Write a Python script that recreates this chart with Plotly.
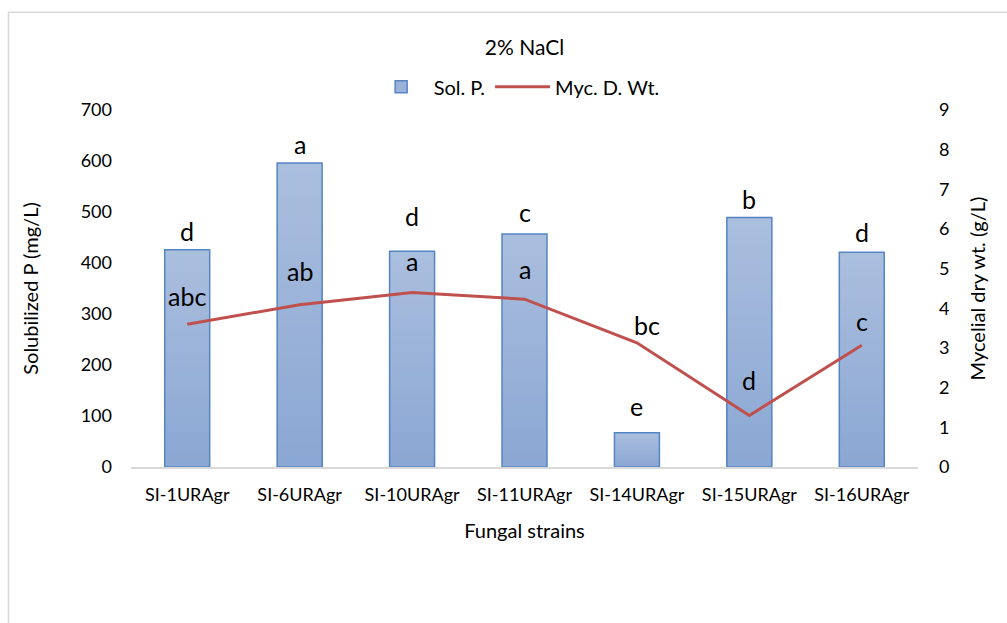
import plotly.graph_objects as go

# Fungal strains tested at 2% NaCl
strains = ["SI-1URAgr", "SI-6URAgr", "SI-10URAgr", "SI-11URAgr",
           "SI-14URAgr", "SI-15URAgr", "SI-16URAgr"]
sol_p = [426, 596, 423, 457, 67, 489, 421]          # solubilized P (mg/L)
myc_dw = [3.60, 4.09, 4.40, 4.23, 3.13, 1.30, 3.07]  # mycelial dry wt. (g/L)
sol_p_letters = ["d", "a", "d", "c", "e", "b", "d"]
myc_letters = ["abc", "ab", "a", "a", "bc", "d", "c"]

# pixel offsets of the significance letters above their marks
sol_p_shift = [7, 7, 23, 10, 15, 7, 8]
myc_shift = [16, 22, 19, 18, 6, 23, 12]
myc_xshift = [0, 0, 0, 0, 10, 0, 0]

FONT = "Lato"
BAR_TOP = (170, 190, 222)
BAR_BOTTOM = (139, 167, 211)
BAR_MID = "#9CB3D9"
BAR_EDGE = "#5585C3"
LINE_COLOR = "#C0504D"
N_STEPS = 30

fig = go.Figure()

# vertical gradient fill: overlaid bars, each a shorter fraction of the value
for k in range(N_STEPS):
    f = 1 - k / N_STEPS
    t = k / (N_STEPS - 1)
    rgb = tuple(round(a + (b - a) * t) for a, b in zip(BAR_TOP, BAR_BOTTOM))
    fig.add_trace(go.Bar(
        x=strains, y=[v * f for v in sol_p], width=0.4, showlegend=False,
        hoverinfo="skip",
        marker=dict(color="rgb(%d,%d,%d)" % rgb, line=dict(width=0)),
    ))
# outline of each bar
fig.add_trace(go.Bar(
    x=strains, y=sol_p, name="Sol. P.", width=0.4, showlegend=False,
    marker=dict(color="rgba(0,0,0,0)", line=dict(color=BAR_EDGE, width=1.5)),
))
# legend entry
fig.add_trace(go.Bar(
    x=[None], y=[None], name="Sol. P.",
    marker=dict(color=BAR_MID, line=dict(color=BAR_EDGE, width=1.5)),
))
fig.add_trace(go.Scatter(
    x=strains, y=myc_dw, name="Myc. D. Wt.", yaxis="y2", mode="lines",
    line=dict(color=LINE_COLOR, width=3),
))

for s, v, t, dy in zip(strains, sol_p, sol_p_letters, sol_p_shift):
    fig.add_annotation(x=s, y=v, yref="y", text=t, showarrow=False,
                       yanchor="bottom", yshift=dy - 5,
                       font=dict(family=FONT, size=25, color="#000"))
for s, v, t, dy, dx in zip(strains, myc_dw, myc_letters, myc_shift, myc_xshift):
    fig.add_annotation(x=s, y=v, yref="y2", text=t, showarrow=False,
                       yanchor="bottom", yshift=dy - 5, xshift=dx,
                       font=dict(family=FONT, size=25, color="#000"))

# light frame around the chart area
fig.add_shape(type="rect", xref="paper", yref="paper",
              x0=-0.1557, x1=1.3, y0=-0.6, y1=1.274,
              line=dict(color="#D9D9D9", width=1.5), layer="below")

fig.update_layout(
    width=1007, height=623,
    margin=dict(l=131, r=89, t=110, b=155.5),
    paper_bgcolor="white", plot_bgcolor="white",
    font=dict(family=FONT, size=18, color="#000"),
    barmode="overlay",
    title=dict(text="2% NaCl", x=0.5, xref="paper", xanchor="center",
               y=1 - 48 / 623, yanchor="middle",
               font=dict(family=FONT, size=21, color="#000")),
    legend=dict(orientation="h", x=0.49, xanchor="center",
                y=1.065, yanchor="middle",
                font=dict(family=FONT, size=20, color="#000"),
                itemwidth=55),
    showlegend=True,
    xaxis=dict(showline=True, linecolor="#D9D9D9", linewidth=2,
               ticks="", showgrid=False, ticklabelstandoff=10,
               title=dict(text="Fungal strains", standoff=20,
                          font=dict(family=FONT, size=20))),
    yaxis=dict(range=[0, 700], dtick=100, showgrid=False, zeroline=False,
               ticks="", ticklabelstandoff=18,
               title=dict(text="Solubilized P (mg/L)", standoff=36,
                          font=dict(family=FONT, size=20))),
    yaxis2=dict(range=[0, 9], dtick=1, overlaying="y", side="right",
                showgrid=False, zeroline=False, ticks="", ticklabelstandoff=20,
                title=dict(text="Mycelial dry wt. (g/L)", standoff=22,
                           font=dict(family=FONT, size=20))),
)

fig.write_html("out.html")
